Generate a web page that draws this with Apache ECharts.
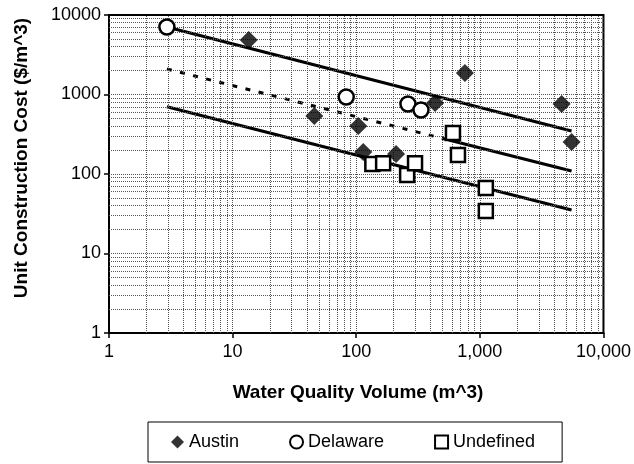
<!DOCTYPE html>
<html>
<head>
<meta charset="utf-8">
<script src="https://cdn.jsdelivr.net/npm/echarts@6/dist/echarts.min.js"></script>
<style>
  html, body { margin: 0; padding: 0; background: #fff; }
  #chart { width: 634px; height: 464px; }
</style>
</head>
<body>
<div id="chart"></div>
<script>
// ---- data ----
const xTickValues = [1, 10, 100, 1000, 10000];
const xTickLabels = ['1', '10', '100', '1,000', '10,000'];
const yTickValues = [1, 10, 100, 1000, 10000];
const yTickLabels = ['1', '10', '100', '1000', '10000'];

const austinX = [13.5, 45.8, 104, 114, 210, 434, 757, 4585, 5520];
const austinY = [4850, 537, 402, 189, 178, 782, 1864, 760, 253];

const delawareX = [2.94, 83, 262, 334];
const delawareY = [7063, 930, 760, 638];

const undefinedX = [135, 165, 258, 299, 606, 665, 1118, 1118];
const undefinedY = [134, 137, 97, 137, 328, 173, 66.7, 34.2];

const upperLineX = [2.94, 5520];
const upperLineY = [7063, 347];
const midDashX = [2.94, 560];
const midDashY = [2093, 268];
const midSolidX = [560, 5520];
const midSolidY = [268, 109];
const lowerLineX = [2.94, 5520];
const lowerLineY = [700, 35.3];

const xTitle = 'Water Quality Volume (m^3)';
const yTitle = 'Unit Construction Cost ($/m^3)';

// ---- build ----
const FONT = 'Liberation Sans, Arial, sans-serif';
const zip = (xs, ys) => xs.map((x, i) => [x, ys[i]]);

const gridLines = [];
[1, 10, 100, 1000].forEach(d => {
  for (let k = 2; k <= 10; k++) {
    const v = d * k;
    if (v < 10000) {
      gridLines.push({ xAxis: v });
      gridLines.push({ yAxis: v });
    }
  }
});

const chart = echarts.init(document.getElementById('chart'), null, { renderer: 'canvas' });

const option = {
  animation: false,
  backgroundColor: '#fff',
  grid: {
    left: 109, top: 15, width: 496, height: 318,
    show: true, borderColor: '#000', borderWidth: 2, backgroundColor: 'transparent'
  },
  xAxis: {
    type: 'log', logBase: 10, min: 1, max: 10000,
    axisLine: { show: true, lineStyle: { color: '#000', width: 2 } },
    axisTick: { show: true, length: 5, lineStyle: { color: '#000', width: 1.5 } },
    splitLine: { show: false },
    axisLabel: {
      fontSize: 18, color: '#000', fontFamily: FONT, margin: 10,
      formatter: v => { const i = xTickValues.findIndex(t => Math.abs(t - v) / t < 1e-6); return i >= 0 ? xTickLabels[i] : ''; }
    }
  },
  yAxis: {
    type: 'log', logBase: 10, min: 1, max: 10000,
    axisLine: { show: true, lineStyle: { color: '#000', width: 2 } },
    axisTick: { show: true, length: 5, lineStyle: { color: '#000', width: 1.5 } },
    splitLine: { show: false },
    axisLabel: {
      fontSize: 18, color: '#000', fontFamily: FONT, margin: 8,
      formatter: v => { const i = yTickValues.findIndex(t => Math.abs(t - v) / t < 1e-6); return i >= 0 ? yTickLabels[i] : ''; }
    }
  },
  legend: {
    left: 148, top: 422,
    padding: [11, 27, 11, 23],
    itemGap: 50, itemWidth: 13, itemHeight: 13,
    borderColor: '#000', borderWidth: 1,
    textStyle: { fontSize: 18, color: '#000', fontFamily: FONT },
    data: [
      { name: 'Austin', icon: 'diamond', itemStyle: { color: '#000' } },
      { name: 'Delaware', icon: 'circle', itemStyle: { color: '#fff', borderColor: '#000', borderWidth: 2 } },
      { name: 'Undefined', icon: 'rect', itemStyle: { color: '#fff', borderColor: '#000', borderWidth: 2 } }
    ]
  },
  graphic: [
    { type: 'text', x: 358, y: 393, style: { text: xTitle, font: 'bold 19px ' + FONT, fill: '#000', align: 'center', verticalAlign: 'middle' } },
    { type: 'text', x: 22, y: 158, rotation: Math.PI / 2, style: { text: yTitle, font: 'bold 19px ' + FONT, fill: '#000', align: 'center', verticalAlign: 'middle' } }
  ],
  series: [
    {
      name: 'grid', type: 'line', data: [], silent: true, z: 1,
      markLine: {
        silent: true, symbol: ['none', 'none'], label: { show: false },
        lineStyle: { type: 'dotted', color: '#555', width: 1 },
        emphasis: { disabled: true },
        data: gridLines
      }
    },
    { name: 'upper', type: 'line', data: zip(upperLineX, upperLineY), symbol: 'none', z: 3, lineStyle: { color: '#000', width: 3 } },
    { name: 'midDash', type: 'line', data: zip(midDashX, midDashY), symbol: 'none', z: 3, lineStyle: { color: '#000', width: 3, type: [5, 8.5] } },
    { name: 'midSolid', type: 'line', data: zip(midSolidX, midSolidY), symbol: 'none', z: 3, lineStyle: { color: '#000', width: 3 } },
    { name: 'lower', type: 'line', data: zip(lowerLineX, lowerLineY), symbol: 'none', z: 3, lineStyle: { color: '#000', width: 3 } },
    { name: 'Austin', type: 'scatter', data: zip(austinX, austinY), symbol: 'diamond', symbolSize: 18, z: 5,
      itemStyle: { color: '#000' } },
    { name: 'Delaware', type: 'scatter', data: zip(delawareX, delawareY), symbol: 'circle', symbolSize: 15, z: 5,
      itemStyle: { color: '#fff', borderColor: '#000', borderWidth: 2.5, opacity: 1 } },
    { name: 'Undefined', type: 'scatter', data: zip(undefinedX, undefinedY), symbol: 'rect', symbolSize: 14, z: 5,
      itemStyle: { color: '#fff', borderColor: '#000', borderWidth: 2.5, opacity: 1 } }
  ]
};
chart.setOption(option);
</script>
</body>
</html>
